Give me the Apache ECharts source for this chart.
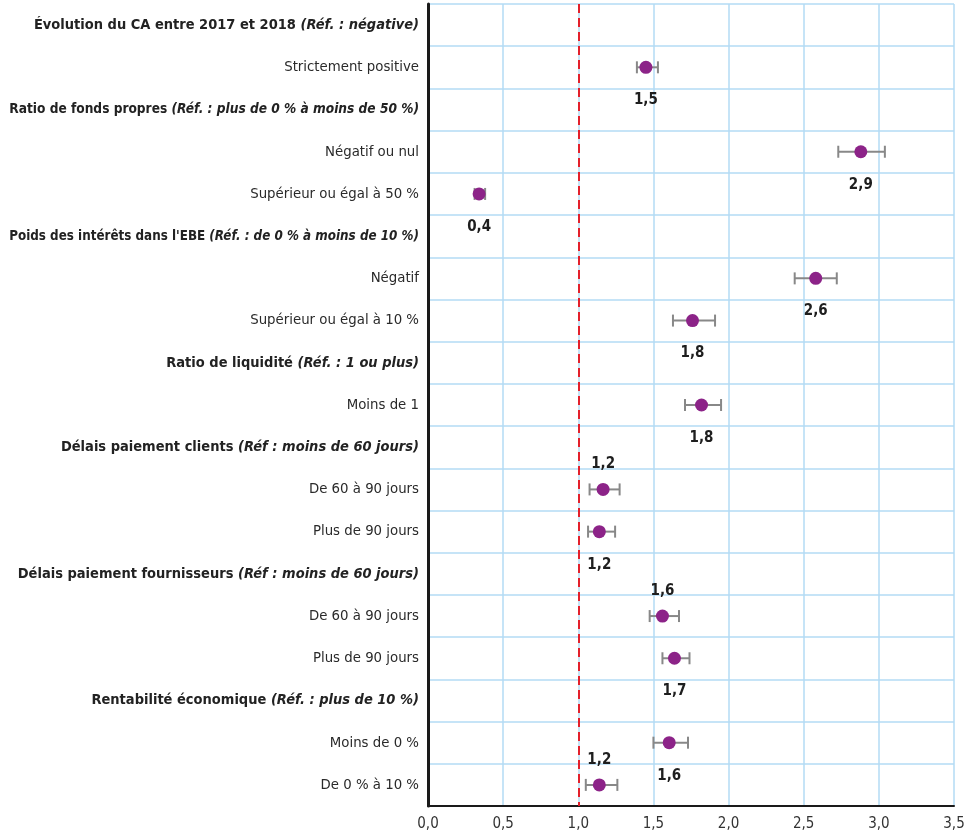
<!DOCTYPE html>
<html>
<head>
<meta charset="utf-8">
<script src="https://cdn.jsdelivr.net/npm/echarts@6/dist/echarts.min.js"></script>
<style>
html,body{margin:0;padding:0;background:#fff;}
#chart{width:974px;height:838px;}
</style>
</head>
<body>
<div id="chart"></div>
<script>
// Categories: header rows contain "title|ref" (bold + bold italic)
const categories = [
  "Évolution du CA entre 2017 et 2018 |(Réf. : négative)",
  "Strictement positive",
  "Ratio de fonds propres |(Réf. : plus de 0 % à moins de 50 %)",
  "Négatif ou nul",
  "Supérieur ou égal à 50 %",
  "Poids des intérêts dans l'EBE |(Réf. : de 0 % à moins de 10 %)",
  "Négatif",
  "Supérieur ou égal à 10 %",
  "Ratio de liquidité |(Réf. : 1 ou plus)",
  "Moins de 1",
  "Délais paiement clients |(Réf : moins de 60 jours)",
  "De 60 à 90 jours ",
  "Plus de 90 jours ",
  "Délais paiement fournisseurs |(Réf : moins de 60 jours)",
  "De 60 à 90 jours",
  "Plus de 90 jours",
  "Rentabilité économique |(Réf. : plus de 10 %)",
  "Moins de 0 %",
  "De 0 % à 10 %"
];

const pointCats = [
  "Strictement positive",
  "Négatif ou nul",
  "Supérieur ou égal à 50 %",
  "Négatif",
  "Supérieur ou égal à 10 %",
  "Moins de 1",
  "De 60 à 90 jours ",
  "Plus de 90 jours ",
  "De 60 à 90 jours",
  "Plus de 90 jours",
  "Moins de 0 %",
  "De 0 % à 10 %"
];
const pointValues = [1.45, 2.88, 0.34, 2.58, 1.76, 1.82, 1.165, 1.14, 1.56, 1.64, 1.605, 1.14];
const errLow      = [1.39, 2.73, 0.31, 2.44, 1.63, 1.71, 1.075, 1.065, 1.475, 1.56, 1.50, 1.05];
const errHigh     = [1.53, 3.04, 0.38, 2.72, 1.91, 1.95, 1.275, 1.245, 1.67, 1.74, 1.73, 1.26];
const valueLabels = ["1,5", "2,9", "0,4", "2,6", "1,8", "1,8", "1,2", "1,2", "1,6", "1,7", "1,6", "1,2"];
const labelSide   = ["bottom","bottom","bottom","bottom","bottom","bottom","top","bottom","top","bottom","bottom","top"];

const xTicks = ["0,0","0,5","1,0","1,5","2,0","2,5","3,0","3,5"];
const refValue = 1.0;

const FONT = "'DejaVu Sans Condensed', 'Liberation Sans Narrow', sans-serif";
const HEAD_SIZE = 14.5;
const HEAD_MAX_W = 410;

// measure header widths so long headers are shrunk to fit the left margin
const mctx = document.createElement('canvas').getContext('2d');
function textW(txt, font) { mctx.font = font; return mctx.measureText(txt).width; }

const rich = {
  n: {fontFamily: FONT, fontSize: 14.8, color: '#2a2a2a'}
};
const headKey = {};
categories.forEach((c, i) => {
  if (c.indexOf('|') < 0) return;
  const p = c.split('|');
  const w = textW(p[0], 'bold ' + HEAD_SIZE + 'px ' + FONT) +
            textW(p[1], 'italic bold ' + HEAD_SIZE + 'px ' + FONT);
  const size = w > HEAD_MAX_W ? HEAD_SIZE * HEAD_MAX_W / w : HEAD_SIZE;
  rich['b' + i] = {fontFamily: FONT, fontSize: size, fontWeight: 'bold', color: '#222'};
  rich['i' + i] = {fontFamily: FONT, fontSize: size, fontWeight: 'bold', fontStyle: 'italic', color: '#222'};
  headKey[c] = i;
});

const chart = echarts.init(document.getElementById('chart'), null, {renderer: 'canvas'});

const scatterData = pointCats.map((c, i) => ({
  value: [pointValues[i], c],
  label: {
    show: true,
    position: labelSide[i],
    distance: labelSide[i] === 'top' ? 11 : 19,
    formatter: valueLabels[i]
  }
}));
const errData = pointCats.map((c, i) => [errLow[i], errHigh[i], c]);

const option = {
  animation: false,
  backgroundColor: '#ffffff',
  grid: {left: 428, right: 20, top: 4, bottom: 32, containLabel: false, outerBoundsMode: 'none'},
  xAxis: {
    type: 'value',
    min: 0, max: 3.5, interval: 0.5,
    axisLine: {show: true, lineStyle: {color: '#1a1a1a', width: 2}},
    axisTick: {show: false},
    axisLabel: {
      margin: 11,
      fontFamily: FONT, fontSize: 15, color: '#333',
      formatter: (v) => xTicks[Math.round(v / 0.5)]
    },
    splitLine: {show: true, lineStyle: {color: '#b3dbf5', width: 1.5}}
  },
  yAxis: {
    type: 'category',
    data: categories,
    inverse: true,
    boundaryGap: true,
    axisLine: {show: true, onZero: false, lineStyle: {color: '#1a1a1a', width: 3}},
    axisTick: {show: false},
    splitLine: {show: true, lineStyle: {color: '#b3dbf5', width: 1.5}},
    axisLabel: {
      margin: 9,
      interval: 0,
      fontFamily: FONT, fontSize: 15, color: '#222',
      formatter: (v) => {
        if (v.indexOf('|') >= 0) {
          const k = headKey[v];
          const p = v.split('|');
          return '{b' + k + '|' + p[0] + '}{i' + k + '|' + p[1] + '}';
        }
        return '{n|' + v.trim() + '}';
      },
      rich: rich
    }
  },
  series: [
    {
      type: 'custom',
      z: 3,
      data: errData,
      encode: {x: [0, 1], y: 2},
      renderItem: (params, api) => {
        const y = api.value(2);
        const p1 = api.coord([api.value(0), y]);
        const p2 = api.coord([api.value(1), y]);
        const h = 6;
        const style = {stroke: '#888888', lineWidth: 2, fill: null};
        return {
          type: 'group',
          children: [
            {type: 'line', shape: {x1: p1[0], y1: p1[1], x2: p2[0], y2: p2[1]}, style},
            {type: 'line', shape: {x1: p1[0], y1: p1[1] - h, x2: p1[0], y2: p1[1] + h}, style},
            {type: 'line', shape: {x1: p2[0], y1: p2[1] - h, x2: p2[0], y2: p2[1] + h}, style}
          ]
        };
      }
    },
    {
      type: 'scatter',
      z: 4,
      symbol: 'circle',
      symbolSize: 13,
      itemStyle: {color: '#8c2388', opacity: 1},
      label: {
        fontFamily: FONT, fontSize: 15, fontWeight: 'bold', color: '#1e1e1e'
      },
      data: scatterData,
      markLine: {
        silent: true,
        symbol: ['none', 'none'],
        label: {show: false},
        lineStyle: {color: '#e3202b', width: 2, type: [9, 5]},
        data: [{xAxis: refValue}]
      }
    }
  ]
};
chart.setOption(option);
</script>
</body>
</html>
